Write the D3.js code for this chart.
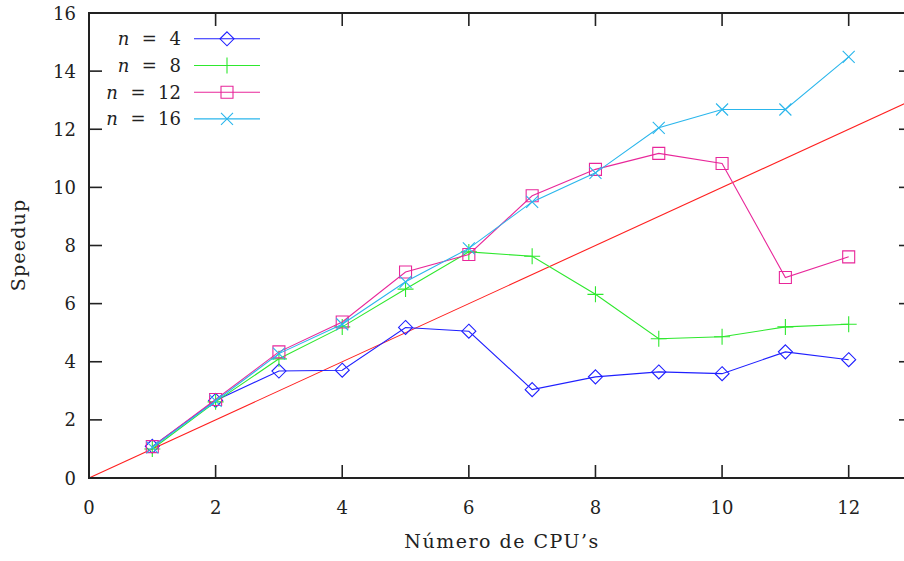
<!DOCTYPE html>
<html>
<head>
<meta charset="utf-8">
<script src="https://cdn.jsdelivr.net/npm/d3@7"></script>
<style>
  body { margin: 0; background: #fff; }
  text { font-family: "DejaVu Serif", "Liberation Serif", serif; fill: #222; }
</style>
</head>
<body>
<div id="chart"></div>
<script>
// data
const cpus = [1, 2, 3, 4, 5, 6, 7, 8, 9, 10, 11, 12];
const speedupN4 = [1.09, 2.67, 3.68, 3.71, 5.18, 5.05, 3.04, 3.48, 3.65, 3.59, 4.34, 4.07];
const speedupN8 = [1.0, 2.62, 4.1, 5.2, 6.5, 7.78, 7.63, 6.32, 4.79, 4.86, 5.2, 5.29];
const speedupN12 = [1.08, 2.7, 4.34, 5.37, 7.09, 7.69, 9.71, 10.62, 11.17, 10.82, 6.9, 7.61];
const speedupN16 = [1.05, 2.65, 4.28, 5.29, 6.75, 7.9, 9.5, 10.5, 12.05, 12.68, 12.68, 14.49];
const seriesNames = ["n = 4", "n = 8", "n = 12", "n = 16"];
const xTicks = [0, 2, 4, 6, 8, 10, 12];
const yTicks = [0, 2, 4, 6, 8, 10, 12, 14, 16];
const idealLine = [0, 13];

const width = 904, height = 561;
const margin = {top: 13, right: -8, bottom: 83, left: 89};

const svg = d3.select("#chart").append("svg")
    .attr("width", width)
    .attr("height", height);

let x = d3.scaleLinear().domain([0, 13]).range([margin.left, width - margin.right]);
let y = d3.scaleLinear().domain([0, 16]).range([height - margin.bottom, margin.top]);

const colors = ["#1f1fff", "#2ee82e", "#e8279a", "#2ab6ec"];
const symbols = ["diamond", "plus", "square", "cross"];
const allSeries = [speedupN4, speedupN8, speedupN12, speedupN16];

function drawMarker(g, kind, cx, cy, color) {
    let p;
    if (kind == "diamond") p = `M${cx},${cy-7}L${cx+7},${cy}L${cx},${cy+7}L${cx-7},${cy}Z`;
    else if (kind == "plus") p = `M${cx-8},${cy}H${cx+8}M${cx},${cy-8}V${cy+8}`;
    else if (kind == "square") p = `M${cx-6},${cy-6}H${cx+6}V${cy+6}H${cx-6}Z`;
    else p = `M${cx-6},${cy-6}L${cx+6},${cy+6}M${cx-6},${cy+6}L${cx+6},${cy-6}`;
    g.append("path").attr("d", p)
        .attr("fill", "none").attr("stroke", color).attr("stroke-width", 1.1);
}

// reference line y = x
svg.append("line")
    .attr("x1", x(idealLine[0])).attr("y1", y(idealLine[0]))
    .attr("x2", x(idealLine[1])).attr("y2", y(idealLine[1]))
    .attr("stroke", "#ff2020").attr("stroke-width", 1.1);

let line = d3.line().x(d => x(d[0])).y(d => y(d[1]));

allSeries.forEach((vals, i) => {
    let pts = cpus.map((c, j) => [c, vals[j]]);
    svg.append("path").datum(pts)
        .attr("d", line)
        .attr("fill", "none")
        .attr("stroke", colors[i])
        .attr("stroke-width", 1.1);
    let g = svg.append("g");
    pts.forEach(p => drawMarker(g, symbols[i], x(p[0]), y(p[1]), colors[i]));
});

// axes box with inward ticks
const axisColor = "#222";
const x0 = x(0), x1 = x(13), y0 = y(0), y1 = y(16);
svg.append("rect")
    .attr("x", x0).attr("y", y1)
    .attr("width", x1 - x0).attr("height", y0 - y1)
    .attr("fill", "none").attr("stroke", axisColor).attr("stroke-width", 2);

const tickLen = 13;
xTicks.forEach(t => {
    svg.append("line").attr("x1", x(t)).attr("x2", x(t)).attr("y1", y0).attr("y2", y0 - tickLen)
        .attr("stroke", axisColor).attr("stroke-width", 1.6);
    svg.append("line").attr("x1", x(t)).attr("x2", x(t)).attr("y1", y1).attr("y2", y1 + tickLen)
        .attr("stroke", axisColor).attr("stroke-width", 1.6);
    svg.append("text").attr("x", x(t)).attr("y", y0 + 35.5)
        .attr("text-anchor", "middle").style("font-size", "18px").text(t);
});
yTicks.forEach(t => {
    svg.append("line").attr("x1", x0).attr("x2", x0 + tickLen).attr("y1", y(t)).attr("y2", y(t))
        .attr("stroke", axisColor).attr("stroke-width", 1.6);
    svg.append("line").attr("x1", x1).attr("x2", x1 - tickLen).attr("y1", y(t)).attr("y2", y(t))
        .attr("stroke", axisColor).attr("stroke-width", 1.6);
    svg.append("text").attr("x", 76).attr("y", y(t) + 6.5)
        .attr("text-anchor", "end").style("font-size", "18px").text(t);
});

// axis titles
svg.append("text")
    .attr("x", 502).attr("y", 548)
    .attr("text-anchor", "middle").style("font-size", "19px")
    .style("letter-spacing", "1.5px")
    .text("Número de CPU’s");
svg.append("text")
    .attr("transform", `translate(25, 245) rotate(-90)`)
    .attr("text-anchor", "middle").style("font-size", "19px")
    .style("letter-spacing", "1.2px")
    .text("Speedup");

// legend
seriesNames.forEach((name, i) => {
    let ly = 38.8 + i * 26.7;
    let parts = name.split(" = ");
    let t = svg.append("text").attr("x", 181).attr("y", ly + 6.5)
        .attr("text-anchor", "end").style("font-size", "18px")
        .attr("xml:space", "preserve");
    t.append("tspan").style("font-style", "italic").text(parts[0]);
    t.append("tspan").text("\u2002\u2009=\u2002\u2009" + parts[1]);
    svg.append("line").attr("x1", 194).attr("x2", 260).attr("y1", ly).attr("y2", ly)
        .attr("stroke", colors[i]).attr("stroke-width", 1.1);
    drawMarker(svg, symbols[i], 227, ly, colors[i]);
});
</script>
</body>
</html>
